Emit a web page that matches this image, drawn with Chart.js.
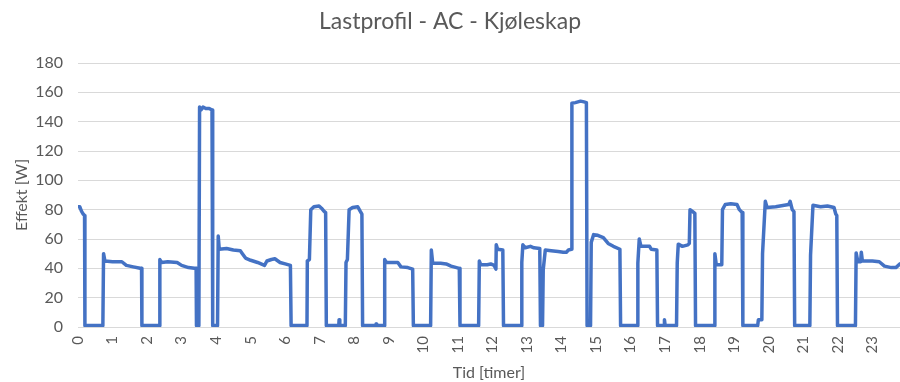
<!DOCTYPE html>
<html>
<head>
<meta charset="utf-8">
<title>Lastprofil - AC - Kjøleskap</title>
<script src="https://cdn.jsdelivr.net/npm/chart.js@4/dist/chart.umd.min.js"></script>
<style>
    html, body { margin: 0; padding: 0; background: #ffffff; }
    #Chart { display: block; }
</style>
</head>
<body>
<canvas id="Chart" width="900" height="382"></canvas>
<script>
//Measured load of the fridge over one day: time in hours and power in watts.
const hours = [
    0.00, 0.05, 0.10, 0.15, 0.19, 0.20, 0.72, 0.74, 0.78, 1.00, 1.27, 1.40, 1.60, 1.80, 1.84, 1.85,
    2.35, 2.37, 2.42, 2.60, 2.87, 3.00, 3.20, 3.37, 3.42, 3.43, 3.50, 3.52, 3.56, 3.62, 3.70, 3.80, 3.88, 3.90,
    4.04, 4.06, 4.09, 4.30, 4.50, 4.70, 4.76, 4.85, 5.00, 5.20, 5.30, 5.40, 5.47, 5.60, 5.70, 5.85, 6.00, 6.15, 6.17,
    6.63, 6.64, 6.70, 6.74, 6.83, 6.98, 7.05, 7.12, 7.17, 7.19, 7.55, 7.56, 7.58,
    7.74, 7.76, 7.80, 7.85, 7.95, 8.10, 8.17, 8.22, 8.24, 8.62, 8.63, 8.65,
    8.86, 8.88, 8.93, 9.26, 9.35, 9.55, 9.69, 9.71,
    10.21, 10.23, 10.27, 10.50, 10.66, 10.80, 11.04, 11.06,
    11.60, 11.62, 11.66, 11.85, 11.95, 12.05, 12.10, 12.11, 12.15, 12.30, 12.32,
    12.83, 12.85, 12.88, 12.95, 13.10, 13.20, 13.37, 13.39, 13.45, 13.47, 13.53, 13.70, 13.90, 14.05, 14.14, 14.20, 14.29,
    14.30, 14.40, 14.55, 14.65, 14.72, 14.74, 14.84, 14.86, 14.93, 15.05, 15.21, 15.35, 15.50, 15.69, 15.71,
    16.19, 16.21, 16.25, 16.30, 16.55, 16.60, 16.76, 16.78, 16.97, 16.98, 17.00,
    17.33, 17.35, 17.38, 17.50, 17.66, 17.70, 17.72, 17.78, 17.86, 17.88,
    18.42, 18.44, 18.48, 18.64, 18.66, 18.74, 18.90, 19.08, 19.15, 19.23, 19.25,
    19.68, 19.70, 19.80, 19.82, 19.90, 19.95, 20.20, 20.45, 20.58, 20.62, 20.68, 20.73, 20.75,
    21.19, 21.21, 21.28, 21.50, 21.70, 21.89, 21.94, 21.97, 21.99,
    22.51, 22.53, 22.58, 22.66, 22.68, 22.71, 23.00, 23.20, 23.35, 23.55, 23.68, 23.80, 23.87
];

const watts = [
    82, 82, 79, 77, 76, 1, 1, 50, 45, 44.5, 44.5, 42, 41, 40, 40, 1,
    1, 46, 44, 44.5, 44, 42, 40.5, 40, 40, 1, 1, 150, 148, 150, 149, 149, 148, 1,
    1, 62, 53, 53.5, 52.5, 52, 50, 47, 45.5, 44, 43, 42, 45, 46, 46.5, 44, 43, 42, 1,
    1, 45, 46, 80, 82, 82.5, 81, 79, 78, 1, 1, 5, 1,
    1, 44, 46, 80, 81.5, 82, 79, 77, 1, 1, 2, 1,
    1, 46, 44, 44, 41, 40.5, 39.5, 1,
    1, 52.5, 43.5, 43.5, 43, 41.5, 40, 1,
    1, 45, 42.5, 42.5, 43, 42, 39.5, 56, 53, 52.5, 1,
    1, 44, 56, 54, 55, 54, 53.5, 1, 1, 39, 52.5, 52, 51.5, 51, 51, 52.5, 53,
    152.5, 153, 154, 153.5, 153, 1, 1, 57.7, 63, 62.5, 61, 57, 55, 53, 1,
    1, 43.6, 60, 55, 55, 53, 52.5, 1, 1, 5, 1,
    1, 43.6, 56.5, 55, 56, 57, 80, 79, 77.5, 1,
    1, 50, 42.5, 42.5, 80, 83.5, 84, 83.5, 80, 78, 1,
    1, 5, 5, 50, 85.7, 81.5, 82, 83, 83.5, 85.7, 80, 78.7, 1,
    1, 49, 83, 82, 82.5, 81.5, 77, 76, 1,
    1, 50.5, 44.5, 44.5, 51, 45, 45, 44.5, 41.5, 40.5, 40.5, 43, 43.5
];

//Axis settings.
const hourMax = 23.8;
const hourStep = 1;
const wattMax = 180;
const wattStep = 20;

const chartTitle = 'Lastprofil - AC - Kjøleskap';
const xTitle = 'Tid [timer]';
const yTitle = 'Effekt [W]';

const textColor = '#595959';
const gridColor = '#d9d9d9';
const fontFamily = 'Lato, "Open Sans", "Noto Sans", sans-serif';

let points = hours.map(function (h, i) {
    return {x: h, y: watts[i]};
});

config = {
    type: 'line',
    data: {
        datasets: [{
            label: 'Effekt',
            data: points,
            borderColor: '#4472c4',
            backgroundColor: '#4472c4',
            borderWidth: 3.5,
            borderJoinStyle: 'round',
            borderCapStyle: 'round',
            pointRadius: 0,
            fill: false,
            tension: 0
        }]
    },
    options: {
        responsive: false,
        animation: false,
        devicePixelRatio: 1,
        layout: {padding: {left: 0, right: 0, top: 0, bottom: 0}},
        plugins: {
            legend: {display: false},
            tooltip: {enabled: false},
            title: {
                display: true,
                text: chartTitle,
                color: textColor,
                font: {family: fontFamily, size: 23, weight: 'normal'},
                padding: {top: 8, bottom: 27.4}
            }
        },
        scales: {
            x: {
                type: 'linear',
                min: 0,
                max: hourMax,
                grid: {display: false, drawTicks: false},
                border: {display: false},
                ticks: {
                    stepSize: hourStep,
                    includeBounds: false,
                    autoSkip: false,
                    minRotation: 90,
                    maxRotation: 90,
                    padding: 9,
                    color: textColor,
                    font: {family: fontFamily, size: 15},
                    callback: function (value) {
                        return value;
                    }
                },
                title: {
                    display: true,
                    text: xTitle,
                    color: textColor,
                    font: {family: fontFamily, size: 16},
                    padding: {top: 0, bottom: 0}
                },
                afterFit: function (scale) {
                    scale.height = 55;
                }
            },
            y: {
                min: 0,
                max: wattMax,
                grid: {color: gridColor, lineWidth: 1, drawTicks: false},
                border: {display: false},
                ticks: {
                    stepSize: wattStep,
                    padding: 15,
                    color: textColor,
                    font: {family: fontFamily, size: 16}
                },
                title: {
                    display: true,
                    text: yTitle,
                    color: textColor,
                    font: {family: fontFamily, size: 16},
                    padding: {top: 12, bottom: 0}
                },
                afterFit: function (scale) {
                    scale.width = 78;
                }
            }
        }
    }
};

window.onload = function () {
    window.myLine = new Chart(document.getElementById('Chart').getContext('2d'), config);
};
</script>
</body>
</html>
